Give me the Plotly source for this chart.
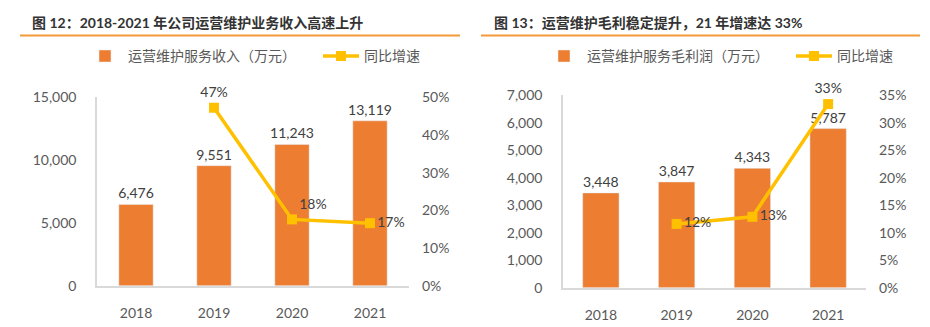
import plotly.graph_objects as go

years = ["2018", "2019", "2020", "2021"]
revenue = [6476, 9551, 11243, 13119]
revenue_growth = [None, 0.472, 0.176, 0.166]
profit = [3448, 3847, 4343, 5787]
profit_growth = [None, 0.116, 0.129, 0.334]

title_left = "图 12：2018-2021 年公司运营维护业务收入高速上升"
title_right = "图 13：运营维护毛利稳定提升，21 年增速达 33%"
bar_name_left = "运营维护服务收入（万元）"
bar_name_right = "运营维护服务毛利润（万元）"
line_name = "同比增速"

BAR = "#ED7D31"
LINE = "#FFC000"
TXT = "#595959"
LBL = "#404040"
FONT = "Lato, Noto Sans CJK SC, sans-serif"
W, H = 930, 327

def px(x):
    return x / W

def py(y):
    return (H - y) / H

fig = go.Figure()

fig.add_trace(go.Bar(
    x=years, y=revenue, name=bar_name_left, marker_color=BAR, width=0.44,
    text=revenue, texttemplate="%{y:,.0f}", textposition="outside", constraintext="none",
    textfont=dict(size=14, color=LBL), cliponaxis=False,
    xaxis="x", yaxis="y", legend="legend"))
fig.add_trace(go.Scatter(
    x=years, y=revenue_growth, name=line_name, mode="lines+markers+text",
    line=dict(color=LINE, width=3.5), marker=dict(symbol="square", size=10, color=LINE),
    texttemplate="%{y:.0%}", textposition=["top center", "top center", "top right", "middle right"],
    textfont=dict(size=14, color=LBL), cliponaxis=False,
    xaxis="x", yaxis="y2", legend="legend2"))

fig.add_trace(go.Bar(
    x=years, y=profit, name=bar_name_right, marker_color=BAR, width=0.48,
    text=profit, texttemplate="%{y:,.0f}", textposition="outside", constraintext="none",
    textfont=dict(size=14, color=LBL), cliponaxis=False,
    xaxis="x2", yaxis="y3", legend="legend3"))
fig.add_trace(go.Scatter(
    x=years, y=profit_growth, name=line_name, mode="lines+markers+text",
    line=dict(color=LINE, width=3.5), marker=dict(symbol="square", size=10, color=LINE),
    texttemplate="%{y:.0%}", textposition=["top center", "middle right", "middle right", "top center"],
    textfont=dict(size=14, color=LBL), cliponaxis=False,
    xaxis="x2", yaxis="y4", legend="legend4"))

tickfont = dict(size=14, color=TXT, family=FONT)
xcommon = dict(type="category", showgrid=False, showline=True, linecolor="#D9D9D9",
               linewidth=1.5, ticks="", tickfont=tickfont, ticklabelstandoff=14)
ycommon = dict(showgrid=False, zeroline=False, ticks="", tickfont=tickfont)

def leg(x):
    return dict(orientation="h", x=px(x), y=py(50), xanchor="left", yanchor="middle",
                font=dict(size=14, color=TXT), bgcolor="rgba(0,0,0,0)", itemwidth=36)

fig.update_layout(
    width=W, height=H, margin=dict(l=0, r=0, t=0, b=0),
    paper_bgcolor="white", plot_bgcolor="white",
    font=dict(family=FONT, color=TXT),
    xaxis=dict(domain=[px(97), px(409)], anchor="y", **xcommon),
    yaxis=dict(domain=[py(292), py(93)], range=[0, 15000], dtick=5000, tickformat=",",
               showline=True, linecolor="#D9D9D9", linewidth=1.5, ticklabelstandoff=16,
               anchor="x", **ycommon),
    yaxis2=dict(domain=[py(292), py(93)], range=[0, 0.5], dtick=0.1, tickformat=".0%",
                overlaying="y", side="right", anchor="x", showline=False,
                ticklabelstandoff=12, **ycommon),
    xaxis2=dict(domain=[px(563), px(866)], anchor="y3", **xcommon),
    yaxis3=dict(domain=[py(294), py(91)], range=[0, 7000], dtick=1000, tickformat=",",
                showline=True, linecolor="#D9D9D9", linewidth=1.5, ticklabelstandoff=16,
                anchor="x2", **ycommon),
    yaxis4=dict(domain=[py(294), py(91)], range=[0, 0.35], dtick=0.05, tickformat=".0%",
                overlaying="y3", side="right", anchor="x2", showline=False,
                ticklabelstandoff=12, **ycommon),
    legend=leg(82),
    legend2=leg(318),
    legend3=leg(541),
    legend4=leg(791),
    showlegend=True,
)

fig.add_annotation(text=f"<b>{title_left}</b>", x=px(30), y=py(14), xref="paper", yref="paper",
                   xanchor="left", yanchor="middle", showarrow=False,
                   font=dict(size=14, color="#333333", family=FONT))
fig.add_annotation(text=f"<b>{title_right}</b>", x=px(492), y=py(14), xref="paper", yref="paper",
                   xanchor="left", yanchor="middle", showarrow=False,
                   font=dict(size=14, color="#333333", family=FONT))
fig.add_shape(type="line", xref="paper", yref="paper", x0=px(20), x1=px(460), y0=py(28), y1=py(28),
              line=dict(color="#F39A3B", width=2))
fig.add_shape(type="line", xref="paper", yref="paper", x0=px(481), x1=px(920), y0=py(28), y1=py(28),
              line=dict(color="#F39A3B", width=2))

fig.write_html("out.html")
